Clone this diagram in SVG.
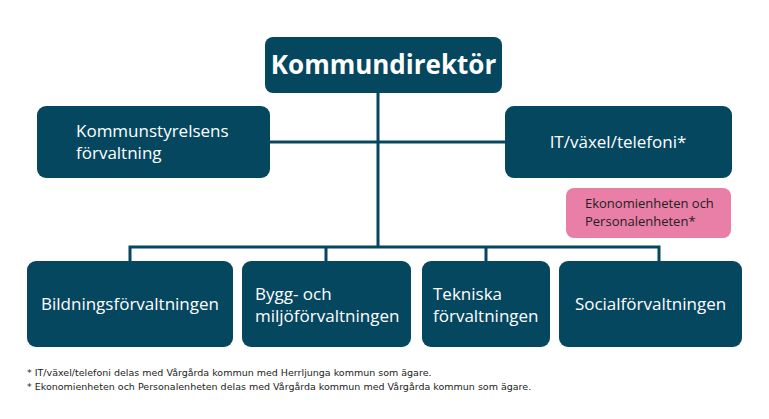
<svg xmlns="http://www.w3.org/2000/svg" width="769" height="419" viewBox="0 0 769 419">
<style>
.n{fill:#05475f}
.t{fill:#fff;font-family:"Open Sans","Liberation Sans",sans-serif;font-size:17px}
.f{fill:#222;font-family:"DejaVu Sans",sans-serif;font-size:9.5px}
</style>
<rect width="769" height="419" fill="#fff"/>
<g id="connectors" fill="none" stroke="#05475f" stroke-width="3">
<path d="M378 93V247M270 142H505M130 261V247H659V261M326 247V261M486 247V261"/>
</g>
<g id="kd"><rect class="n" x="265" y="37" width="237" height="56" rx="8"/><text x="383.5" y="74" text-anchor="middle" class="t" style="font-size:26px;font-weight:bold">Kommundirektör</text></g>
<g id="ksf"><rect class="n" x="37" y="106" width="233" height="72" rx="9"/><text class="t" x="76" y="137">Kommunstyrelsens</text><text class="t" x="76" y="159">förvaltning</text></g>
<g id="it"><rect class="n" x="505" y="106" width="227" height="72" rx="9"/><text class="t" x="618" y="148" text-anchor="middle">IT/växel/telefoni*</text></g>
<g id="eko"><rect fill="#e97ea7" x="566" y="188" width="165" height="50" rx="8"/><text x="585" y="208" style="font-family:'Open Sans','Liberation Sans',sans-serif;font-size:13px;fill:#222">Ekonomienheten och</text><text x="585" y="226" style="font-family:'Open Sans','Liberation Sans',sans-serif;font-size:13px;fill:#222">Personalenheten*</text></g>
<g id="bild"><rect class="n" x="27" y="261" width="206" height="86" rx="9"/><text class="t" x="130" y="310" text-anchor="middle">Bildningsförvaltningen</text></g>
<g id="bygg"><rect class="n" x="242" y="261" width="169" height="86" rx="9"/><text class="t" x="255" y="300">Bygg- och</text><text class="t" x="255" y="322">miljöförvaltningen</text></g>
<g id="tek"><rect class="n" x="422" y="261" width="128" height="86" rx="9"/><text class="t" x="433" y="300">Tekniska</text><text class="t" x="433" y="322">förvaltningen</text></g>
<g id="soc"><rect class="n" x="559" y="261" width="183" height="86" rx="9"/><text class="t" x="650.5" y="310" text-anchor="middle">Socialförvaltningen</text></g>
<text class="f" x="27" y="376">* IT/växel/telefoni delas med Vårgårda kommun med Herrljunga kommun som ägare.</text>
<text class="f" x="27" y="390">* Ekonomienheten och Personalenheten delas med Vårgårda kommun med Vårgårda kommun som ägare.</text>
</svg>
